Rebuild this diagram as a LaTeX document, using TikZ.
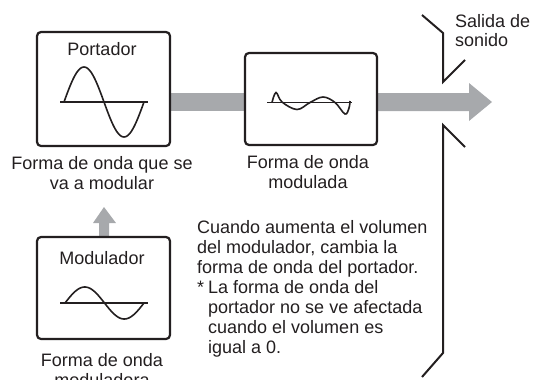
\documentclass[tikz,border=0pt]{standalone}
\usepackage{fontspec}
\setmainfont{Liberation Sans}
\usetikzlibrary{backgrounds}
\definecolor{ink}{HTML}{231F20}
\definecolor{flow}{HTML}{A7A9AC}
\begin{document}
\begin{tikzpicture}[x=1pt,y=-1pt,
  box/.style={draw=ink, line width=2.2pt, rounded corners=4pt, fill=white, inner sep=0pt},
  txt/.style={inner sep=0pt, font=\fontsize{18}{20}\selectfont, text=ink},
  wave/.style={draw=ink, line width=1.6pt},
  axisline/.style={draw=ink, line width=1.1pt},
  flowarrow/.style={fill=flow, draw=none},
  bracket/.style={draw=ink, line width=2pt}]
\useasboundingbox (0,0) rectangle (533,380);

% boxes
\node[box, minimum width=133pt, minimum height=114pt] (car) at (103.5,89) {};
\node[box, minimum width=132pt, minimum height=92pt] (mod) at (311,99) {};
\node[box, minimum width=133pt, minimum height=102pt] (mdl) at (103.5,288) {};

% titles
\node[txt, anchor=base] (cart) at (102,55) {Portador};
\node[txt, anchor=base] (mdlt) at (102,264) {Modulador};

% carrier wave
\draw[axisline] (60,102) -- (148,102);
\draw[wave] plot[domain=0:360, samples=73, smooth] ({64+\x/4.5},{102-35*sin(\x)});

% modulator wave
\draw[axisline] (60,303) -- (148,303);
\draw[wave] plot[domain=0:360, samples=73, smooth] ({65+\x/360*79},{303-16*sin(\x)});

% modulated wave
\draw[axisline] (267,102.5) -- (352,102.5);
\draw[wave] plot[smooth, tension=0.6] coordinates {(272,102.5) (276,92.5) (282,102) (297,109.5) (310,102.5) (323,97) (335,102.5) (345,114) (349,108) (350,101)};

% flow arrows
\coordinate (ytop) at (0,93);
\coordinate (ybot) at (0,111);
\coordinate (tip) at (492,102);
\coordinate (uptip) at (104,207);
\begin{scope}[on background layer]
\fill[flow] (car.east |- ytop) rectangle (mod.west |- ybot);
\fill[flow] (mod.east |- ytop) -- (469,93) -- (469,83) -- (tip) -- (469,121) -- (469,111) -- (mod.east |- ybot) -- cycle;
\fill[flow] (99,237) -- (99,223) -- (93,223) -- (uptip) -- (116,223) -- (109,223) -- (109,237) -- cycle;
\end{scope}

% bracket (sound output)
\draw[bracket] (422,15) -- (443,33) -- (443,82) -- (465,60);
\draw[bracket] (465,147) -- (443,125) -- (443,353) -- (422,377);
\node[txt, anchor=base west, align=left, font=\fontsize{18}{19}\selectfont] (out) at (455,46) {Salida de\\sonido};

% captions (base anchor = last line baseline)
\node[txt, anchor=base, align=center] (carc) at (102,189) {Forma de onda que se\\va a modular};
\node[txt, anchor=base, align=center] (modc) at (308,188) {Forma de onda\\modulada};
\node[txt, anchor=base, align=center] (mdlc) at (102,386) {Forma de onda\\moduladora};

% note
\node[txt, anchor=base west, align=left] (note) at (197,273) {Cuando aumenta el volumen\\del modulador, cambia la\\forma de onda del portador.};
\node[txt, anchor=base west] (star) at (197,293) {*};
\node[txt, anchor=base west, align=left] (note2) at (208,353) {La forma de onda del\\portador no se ve afectada\\cuando el volumen es\\igual a 0.};
\end{tikzpicture}
\end{document}
